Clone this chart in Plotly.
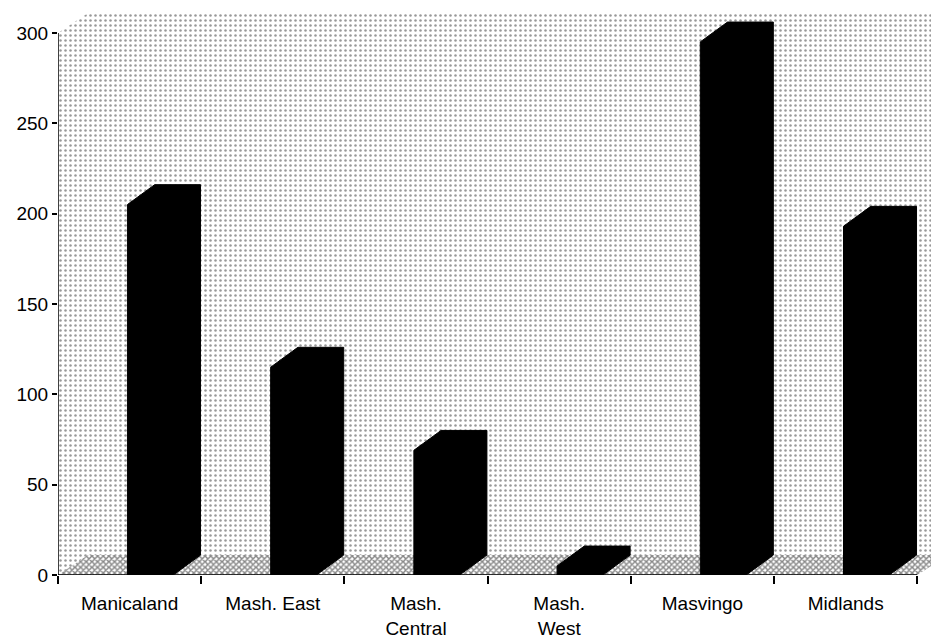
import plotly.graph_objects as go

# Province totals
categories = ["Manicaland", "Mash. East", "Mash.<br>Central", "Mash.<br>West", "Masvingo", "Midlands"]
values = [205, 115, 69, 5, 295, 193]
y_ticks = [0, 50, 100, 150, 200, 250, 300]

# 3-D look: depth offsets in axis units
BAR_DX, BAR_DY = 0.19, 11
WALL_DX, WALL_DY = 0.21, 11
BAR_OFFSET, BAR_WIDTH = -0.015, 0.32

n = len(categories)
x_lo, x_hi = -0.5, 5.596
y_hi = 311
centers = list(range(n))

fig = go.Figure()

# back and side walls (stippled)
slant_y = WALL_DY * (x_hi - (n - 0.5)) / WALL_DX
fig.add_trace(go.Scatter(
    x=[x_lo, x_lo, x_lo + WALL_DX, x_hi, x_hi, n - 0.5, x_lo],
    y=[0, 300, y_hi, y_hi, slant_y, 0, 0],
    fill="toself", mode="none", hoverinfo="skip", showlegend=False,
    fillcolor="white",
    fillpattern=dict(shape=".", fgcolor="#333", bgcolor="white", size=5, solidity=0.2),
))

# floor (denser hatch)
fig.add_trace(go.Scatter(
    x=[x_lo, n - 0.5, n - 0.5 + WALL_DX, x_lo + WALL_DX, x_lo],
    y=[0, 0, WALL_DY, WALL_DY, 0],
    fill="toself", mode="none", hoverinfo="skip", showlegend=False,
    fillcolor="white",
    fillpattern=dict(shape="x", fgcolor="#111", bgcolor="white", size=4, solidity=0.6),
))

# each column: front face, top and side merged into one solid outline
for c, v in zip(centers, values):
    L = c + BAR_OFFSET
    R = L + BAR_WIDTH
    fig.add_trace(go.Scatter(
        x=[L, L, L + BAR_DX, R + BAR_DX, R + BAR_DX, R, L],
        y=[0, v, v + BAR_DY, v + BAR_DY, BAR_DY, 0, 0],
        fill="toself", mode="lines", line=dict(color="black", width=1),
        fillcolor="black", hoverinfo="skip", showlegend=False,
    ))

# axis lines
fig.add_shape(type="line", xref="x", yref="y", x0=x_lo, y0=0, x1=x_lo, y1=300,
              line=dict(color="black", width=1.5))
fig.add_shape(type="line", xref="x", yref="y", x0=x_lo, y0=0, x1=n - 0.5, y1=0,
              line=dict(color="black", width=1.5))

font = dict(family="Liberation Sans, Arial, sans-serif", size=19, color="black")

fig.update_layout(
    width=931, height=639,
    margin=dict(l=58, r=0, t=13, b=62),
    paper_bgcolor="white", plot_bgcolor="white",
    font=font,
    xaxis=dict(
        range=[x_lo, x_hi], showgrid=False, zeroline=False, showline=False,
        tickvals=centers, ticktext=categories,
        ticks="outside", ticklen=11, tickcolor="rgba(0,0,0,0)",
        tickfont=font,
    ),
    xaxis2=dict(
        overlaying="x", matches="x", side="bottom", showgrid=False, zeroline=False,
        tickvals=[i - 0.5 for i in range(n + 1)], showticklabels=False,
        ticks="outside", ticklen=8, tickcolor="black", tickwidth=1.5,
    ),
    yaxis=dict(
        range=[0, y_hi], showgrid=False, zeroline=False, showline=False,
        tickvals=y_ticks, ticks="outside", ticklen=5, tickcolor="black", tickwidth=1.5,
        tickfont=font,
    ),
)

# invisible trace to anchor the tick-mark axis
fig.add_trace(go.Scatter(x=[x_lo], y=[0], xaxis="x2", mode="none",
                         hoverinfo="skip", showlegend=False))

fig.write_html("out.html")
